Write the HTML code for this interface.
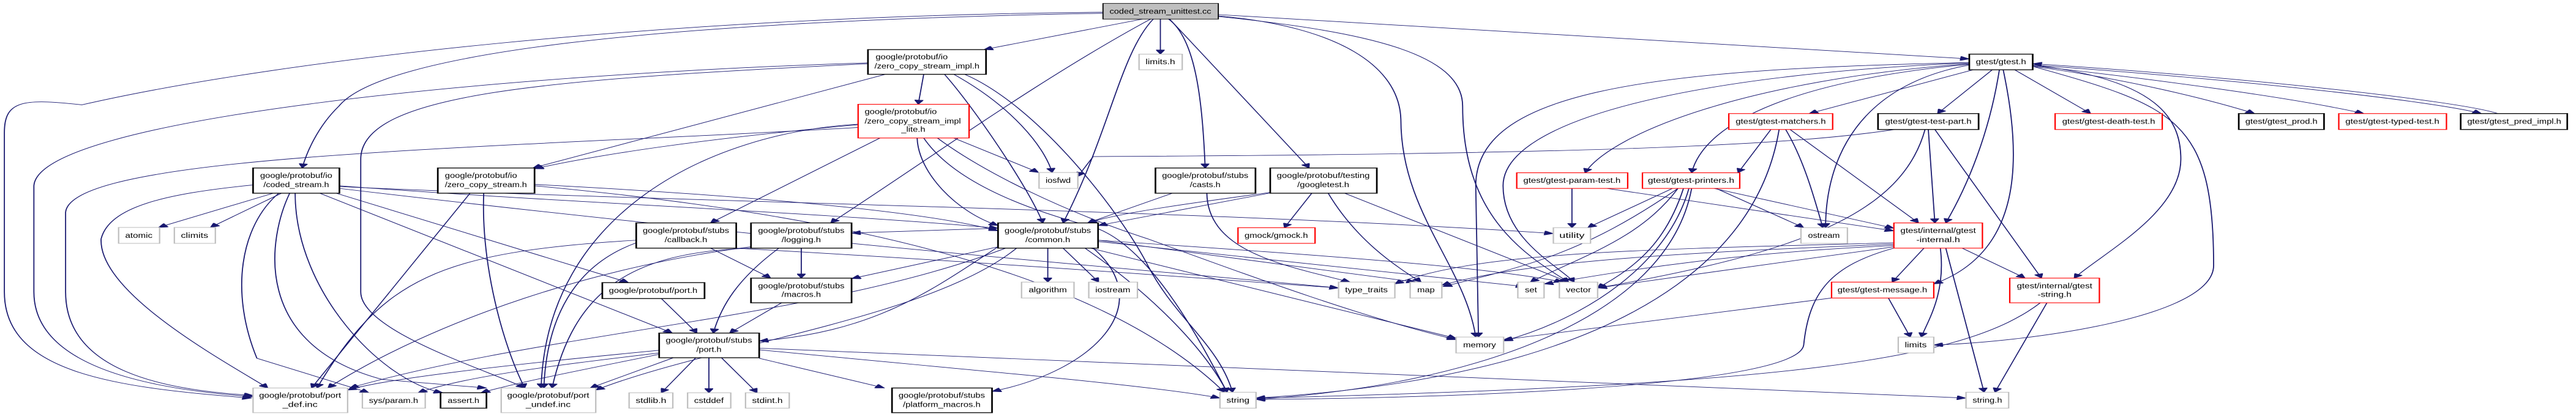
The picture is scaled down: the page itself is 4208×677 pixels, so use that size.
<!DOCTYPE html>
<html><head><meta charset="utf-8"><style>
html,body{margin:0;padding:0;background:#fff;}
svg{display:block;}
text{font-family:"Liberation Sans",sans-serif;font-size:28px;fill:#000;text-anchor:middle;}
.b{fill:#fff;stroke:#000;stroke-width:3;}
.g{fill:#fff;stroke:#bfbfbf;stroke-width:2.5;}
.r{fill:#fff;stroke:#ff0000;stroke-width:2.5;}
.e{fill:none;stroke:#191970;stroke-width:2;}
</style></head><body>
<svg width="4208" height="677" viewBox="0 0 4713 1560" preserveAspectRatio="none" xmlns="http://www.w3.org/2000/svg">
<defs><marker id="a" viewBox="0 0 10 10" refX="10" refY="5" markerWidth="7" markerHeight="7" markerUnits="userSpaceOnUse" orient="auto"><path d="M0,0 L10,5 L0,10 z" fill="#191970"/></marker>
<marker id="m" viewBox="0 0 10 10" refX="10" refY="5" markerWidth="18" markerHeight="16" markerUnits="userSpaceOnUse" orient="auto"><path d="M0,0 L10,5 L0,10 z" fill="#191970" stroke="#191970"/></marker></defs>
<g class="e" marker-end="url(#m)">
<path d="M2018,46 C1200,60 500,230 150,395 C40,370 8,380 8,500 L8,1100 C8,1400 200,1460 460,1500"/>
<path d="M2090,72 L1800,187"/>
<path d="M2018,50 C1200,80 700,200 620,400 C580,480 560,580 553,633"/>
<path d="M2123,72 L2123,204"/>
<path d="M2138,72 C2190,150 2200,400 2205,633"/>
<path d="M2140,72 L2395,633"/>
<path d="M2110,72 C2050,200 2030,500 1945,840"/>
<path d="M2105,72 C1900,300 1700,600 1520,840"/>
<path d="M2229,55 L3603,222"/>
<path d="M2229,60 C2450,100 2560,250 2563,450 C2563,800 2680,1000 2700,1270"/>
<path d="M2229,62 C2500,120 2676,200 2676,400 C2676,800 2780,950 2870,1063"/>
<path d="M1588,237 C900,280 70,450 62,700 L62,1100 C62,1400 300,1470 463,1495"/>
<path d="M1588,240 C1000,300 660,350 660,600 L660,1100 C660,1250 900,1400 960,1462"/>
<path d="M1620,280 L975,633"/>
<path d="M1690,280 L1680,393"/>
<path d="M1745,280 C1850,400 1910,550 1925,650"/>
<path d="M1728,280 C1780,400 1880,700 1908,840"/>
<path d="M1765,280 C1900,400 2050,800 2100,1000 C2150,1200 2230,1300 2255,1478"/>
<path d="M1745,520 L1900,650"/>
<path d="M1570,470 C1300,520 1100,580 978,636"/>
<path d="M1610,520 L1300,840"/>
<path d="M1570,468 C1300,500 1000,800 990,1462"/>
<path d="M1678,520 C1680,650 1750,800 1826,850"/>
<path d="M1690,520 C1750,700 1900,800 1990,850 C2100,900 2200,1300 2245,1478"/>
<path d="M1715,520 C1800,650 1950,800 2100,900 C2300,1050 2500,1200 2664,1280"/>
<path d="M1573,480 C900,560 130,580 120,800 L120,1100 C120,1400 300,1470 463,1490"/>
<path d="M500,728 L290,857"/>
<path d="M515,728 L385,857"/>
<path d="M463,697 C300,730 200,780 185,900 C180,1100 400,1350 490,1462"/>
<path d="M510,728 C440,850 420,1100 470,1350 L675,1480"/>
<path d="M530,728 C490,900 460,1300 700,1430 L890,1462"/>
<path d="M540,728 C540,1100 700,1440 810,1480"/>
<path d="M615,728 L1150,1065"/>
<path d="M585,728 L1230,1255"/>
<path d="M621,700 C1000,760 1500,800 1826,860"/>
<path d="M621,703 C1200,760 2200,790 2842,880"/>
<path d="M621,710 C1400,900 2000,1000 2449,1085"/>
<path d="M860,728 L570,1462"/>
<path d="M885,728 C880,1000 920,1300 960,1462"/>
<path d="M978,695 C1400,740 1700,800 1826,870"/>
<path d="M978,700 C1500,800 2000,1000 2240,1478"/>
<path d="M1300,935 L1410,1048"/>
<path d="M1164,905 C800,950 700,1050 580,1462"/>
<path d="M1164,915 C1050,1000 1000,1200 995,1462"/>
<path d="M1347,935 C1900,1000 2200,1050 2449,1085"/>
<path d="M1466,935 L1466,1048"/>
<path d="M1425,935 C1350,1050 1320,1150 1305,1255"/>
<path d="M1374,930 C1100,1000 800,1200 600,1462"/>
<path d="M1374,935 C1150,950 1050,1100 1010,1462"/>
<path d="M1826,860 L1558,878"/>
<path d="M1826,930 L1558,1050"/>
<path d="M1826,930 C1700,1100 1600,1250 1389,1285"/>
<path d="M1840,935 C1500,1200 1000,1250 640,1462"/>
<path d="M1860,935 C1700,1200 1300,1300 1090,1470"/>
<path d="M1917,935 L1917,1063"/>
<path d="M1945,935 L2010,1063"/>
<path d="M2009,905 L2590,1063"/>
<path d="M2009,910 L2790,1080"/>
<path d="M2009,905 C2400,960 2700,1000 2860,1063"/>
<path d="M1995,935 L2664,1275"/>
<path d="M1985,935 C2100,1100 2200,1300 2245,1478"/>
<path d="M2000,935 C2120,1150 2000,1400 1815,1475"/>
<path d="M1210,1125 L1275,1255"/>
<path d="M1430,1141 L1335,1255"/>
<path d="M1206,1320 C900,1380 700,1430 636,1470"/>
<path d="M1206,1330 C1000,1380 850,1420 765,1480"/>
<path d="M1206,1335 C1050,1400 950,1440 880,1480"/>
<path d="M1232,1348 L1080,1462"/>
<path d="M1273,1348 L1210,1480"/>
<path d="M1297,1348 L1297,1480"/>
<path d="M1320,1348 L1385,1480"/>
<path d="M1389,1350 L1618,1462"/>
<path d="M1389,1318 C1800,1400 2100,1450 2232,1500"/>
<path d="M1389,1312 C2200,1380 3000,1450 3597,1500"/>
<path d="M2324,727 L2009,850"/>
<path d="M2324,725 C2200,760 2050,800 1990,840"/>
<path d="M2400,728 L2350,858"/>
<path d="M2430,728 C2480,900 2550,1000 2600,1063"/>
<path d="M2460,728 L2870,1063"/>
<path d="M2145,728 L1990,840"/>
<path d="M2208,728 C2210,950 2350,1000 2470,1063"/>
<path d="M3466,488 C3300,540 3000,580 2000,590 L1972,665"/>
<path d="M3603,240 C3200,300 2950,500 2900,651"/>
<path d="M3603,242 C3300,300 3120,450 3095,651"/>
<path d="M3603,236 C3000,260 2700,350 2700,700 L2705,1270"/>
<path d="M3603,237 C3100,280 2750,450 2750,700 C2750,900 2850,1000 2880,1063"/>
<path d="M3719,250 C3980,400 4050,450 4050,1000 C4050,1200 3700,1290 3538,1300"/>
<path d="M3603,245 C3400,320 3340,600 3340,858"/>
<path d="M3610,263 L3310,428"/>
<path d="M3645,263 L3545,428"/>
<path d="M3658,263 C3640,500 3600,700 3560,840"/>
<path d="M3665,263 C3700,600 3700,950 3538,1070"/>
<path d="M3719,245 C3950,300 3990,450 3990,600 C3990,800 3850,950 3795,1048"/>
<path d="M3686,263 L3825,428"/>
<path d="M3719,250 C3900,300 4050,380 4125,428"/>
<path d="M3719,248 C3950,300 4200,370 4325,428"/>
<path d="M3719,245 C4100,300 4450,380 4540,428"/>
<path d="M4570,428 C4500,380 4100,290 3719,240"/>
<path d="M3275,488 L3510,840"/>
<path d="M3267,488 C3300,600 3320,750 3335,858"/>
<path d="M3240,488 L3180,651"/>
<path d="M3255,488 C3230,800 3100,1400 2298,1500"/>
<path d="M3528,488 L3540,840"/>
<path d="M3540,488 L3735,1048"/>
<path d="M3522,488 C3480,800 3300,950 2923,1085"/>
<path d="M2876,710 L2876,858"/>
<path d="M2940,710 L3465,870"/>
<path d="M3060,710 L2905,858"/>
<path d="M3136,710 L3465,860"/>
<path d="M3140,710 L3300,858"/>
<path d="M3070,710 C3000,900 2900,960 2800,1063"/>
<path d="M3080,710 C3050,900 3000,1000 2923,1085"/>
<path d="M3070,710 C2900,950 2800,1000 2640,1080"/>
<path d="M3090,710 C3050,1000 2900,1200 2751,1285"/>
<path d="M3095,710 C3050,1200 2700,1450 2298,1505"/>
<path d="M3465,920 C3100,950 2800,980 2638,1075"/>
<path d="M3465,925 C3100,960 2900,1050 2825,1070"/>
<path d="M3465,930 L2923,1085"/>
<path d="M3465,915 C3000,940 2700,950 2552,1070"/>
<path d="M3520,935 L3462,1063"/>
<path d="M3590,935 L3705,1048"/>
<path d="M3550,935 C3560,1100 3530,1200 3515,1270"/>
<path d="M3560,935 L3630,1478"/>
<path d="M3465,935 C3350,1000 3310,1100 3300,1300 C3290,1450 2700,1500 2298,1505"/>
<path d="M3455,1123 L3495,1270"/>
<path d="M3351,1123 L2751,1280"/>
<path d="M3745,1141 L3650,1478"/>
<path d="M3733,1141 C3600,1350 3300,1450 2298,1500"/>
</g>
<!-- nodes -->
<rect x="2018" y="13" width="211" height="59" fill="#bfbfbf" stroke="#000" stroke-width="2"/>
<text x="2123" y="52" textLength="186" lengthAdjust="spacingAndGlyphs">coded_stream_unittest.cc</text>

<rect class="b" x="463" y="633" width="158" height="95"/>
<text x="542" y="671" textLength="132" lengthAdjust="spacingAndGlyphs">google/protobuf/io</text>
<text x="542" y="705" textLength="120" lengthAdjust="spacingAndGlyphs">/coded_stream.h</text>

<rect class="b" x="801" y="633" width="177" height="95"/>
<text x="880" y="671" textLength="132" lengthAdjust="spacingAndGlyphs">google/protobuf/io</text>
<text x="889" y="705" textLength="150" lengthAdjust="spacingAndGlyphs">/zero_copy_stream.h</text>

<rect class="g" x="217" y="857" width="75" height="60"/>
<text x="254" y="896" textLength="50" lengthAdjust="spacingAndGlyphs">atomic</text>
<rect class="g" x="319" y="857" width="75" height="60"/>
<text x="356" y="896" textLength="50" lengthAdjust="spacingAndGlyphs">climits</text>

<rect class="b" x="1164" y="840" width="183" height="95"/>
<text x="1255" y="878" textLength="158" lengthAdjust="spacingAndGlyphs">google/protobuf/stubs</text>
<text x="1255" y="912" textLength="78" lengthAdjust="spacingAndGlyphs">/callback.h</text>

<rect class="b" x="1374" y="840" width="184" height="95"/>
<text x="1466" y="878" textLength="158" lengthAdjust="spacingAndGlyphs">google/protobuf/stubs</text>
<text x="1466" y="912" textLength="72" lengthAdjust="spacingAndGlyphs">/logging.h</text>

<rect class="b" x="1102" y="1065" width="187" height="60"/>
<text x="1195" y="1104" textLength="162" lengthAdjust="spacingAndGlyphs">google/protobuf/port.h</text>

<rect class="b" x="1374" y="1048" width="184" height="93"/>
<text x="1466" y="1086" textLength="158" lengthAdjust="spacingAndGlyphs">google/protobuf/stubs</text>
<text x="1466" y="1119" textLength="72" lengthAdjust="spacingAndGlyphs">/macros.h</text>

<rect class="b" x="1206" y="1255" width="183" height="93"/>
<text x="1297" y="1292" textLength="158" lengthAdjust="spacingAndGlyphs">google/protobuf/stubs</text>
<text x="1297" y="1326" textLength="46" lengthAdjust="spacingAndGlyphs">/port.h</text>

<rect class="g" x="463" y="1462" width="173" height="93"/>
<text x="549" y="1499" textLength="150" lengthAdjust="spacingAndGlyphs">google/protobuf/port</text>
<text x="549" y="1533" textLength="64" lengthAdjust="spacingAndGlyphs">_def.inc</text>

<rect class="g" x="663" y="1480" width="115" height="58"/>
<text x="720" y="1518" textLength="90" lengthAdjust="spacingAndGlyphs">sys/param.h</text>
<rect class="b" x="806" y="1480" width="84" height="58"/>
<text x="848" y="1518" textLength="58" lengthAdjust="spacingAndGlyphs">assert.h</text>

<rect class="g" x="917" y="1462" width="173" height="93"/>
<text x="1003" y="1499" textLength="150" lengthAdjust="spacingAndGlyphs">google/protobuf/port</text>
<text x="1003" y="1533" textLength="82" lengthAdjust="spacingAndGlyphs">_undef.inc</text>

<rect class="g" x="1151" y="1480" width="80" height="58"/>
<text x="1191" y="1518" textLength="56" lengthAdjust="spacingAndGlyphs">stdlib.h</text>
<rect class="g" x="1258" y="1480" width="79" height="58"/>
<text x="1297" y="1518" textLength="54" lengthAdjust="spacingAndGlyphs">cstddef</text>
<rect class="g" x="1364" y="1480" width="80" height="58"/>
<text x="1404" y="1518" textLength="56" lengthAdjust="spacingAndGlyphs">stdint.h</text>

<rect class="b" x="1588" y="187" width="216" height="93"/>
<text x="1668" y="224" textLength="132" lengthAdjust="spacingAndGlyphs">google/protobuf/io</text>
<text x="1696" y="258" textLength="192" lengthAdjust="spacingAndGlyphs">/zero_copy_stream_impl.h</text>

<rect class="g" x="2084" y="204" width="79" height="59"/>
<text x="2123" y="242" textLength="54" lengthAdjust="spacingAndGlyphs">limits.h</text>

<rect class="r" x="1570" y="393" width="203" height="127"/>
<text x="1648" y="430" textLength="132" lengthAdjust="spacingAndGlyphs">google/protobuf/io</text>
<text x="1670" y="465" textLength="176" lengthAdjust="spacingAndGlyphs">/zero_copy_stream_impl</text>
<text x="1671" y="497" textLength="44" lengthAdjust="spacingAndGlyphs">_lite.h</text>

<rect class="g" x="1901" y="650" width="71" height="60"/>
<text x="1936" y="689" textLength="46" lengthAdjust="spacingAndGlyphs">iosfwd</text>

<rect class="b" x="2114" y="633" width="183" height="95"/>
<text x="2205" y="671" textLength="158" lengthAdjust="spacingAndGlyphs">google/protobuf/stubs</text>
<text x="2205" y="705" textLength="56" lengthAdjust="spacingAndGlyphs">/casts.h</text>

<rect class="b" x="2324" y="633" width="195" height="95"/>
<text x="2421" y="671" textLength="170" lengthAdjust="spacingAndGlyphs">google/protobuf/testing</text>
<text x="2421" y="705" textLength="95" lengthAdjust="spacingAndGlyphs">/googletest.h</text>

<rect class="r" x="2775" y="651" width="203" height="59"/>
<text x="2876" y="689" textLength="178" lengthAdjust="spacingAndGlyphs">gtest/gtest-param-test.h</text>
<rect class="r" x="3005" y="651" width="178" height="59"/>
<text x="3094" y="689" textLength="158" lengthAdjust="spacingAndGlyphs">gtest/gtest-printers.h</text>

<rect class="b" x="1826" y="840" width="183" height="95"/>
<text x="1917" y="878" textLength="158" lengthAdjust="spacingAndGlyphs">google/protobuf/stubs</text>
<text x="1917" y="912" textLength="82" lengthAdjust="spacingAndGlyphs">/common.h</text>

<rect class="r" x="2265" y="858" width="141" height="59"/>
<text x="2335" y="896" textLength="116" lengthAdjust="spacingAndGlyphs">gmock/gmock.h</text>
<rect class="g" x="2842" y="858" width="68" height="59"/>
<text x="2876" y="896" textLength="46" lengthAdjust="spacingAndGlyphs">utility</text>

<rect class="g" x="1869" y="1063" width="96" height="60"/>
<text x="1917" y="1102" textLength="70" lengthAdjust="spacingAndGlyphs">algorithm</text>
<rect class="g" x="1992" y="1063" width="89" height="60"/>
<text x="2036" y="1102" textLength="64" lengthAdjust="spacingAndGlyphs">iostream</text>
<rect class="g" x="2449" y="1063" width="103" height="60"/>
<text x="2500" y="1102" textLength="78" lengthAdjust="spacingAndGlyphs">type_traits</text>
<rect class="g" x="2580" y="1063" width="58" height="60"/>
<text x="2609" y="1102" textLength="32" lengthAdjust="spacingAndGlyphs">map</text>
<rect class="g" x="2777" y="1063" width="48" height="60"/>
<text x="2801" y="1102" textLength="22" lengthAdjust="spacingAndGlyphs">set</text>
<rect class="g" x="2853" y="1063" width="70" height="60"/>
<text x="2888" y="1102" textLength="46" lengthAdjust="spacingAndGlyphs">vector</text>
<rect class="g" x="2664" y="1270" width="87" height="60"/>
<text x="2707" y="1309" textLength="60" lengthAdjust="spacingAndGlyphs">memory</text>

<rect class="b" x="1632" y="1462" width="183" height="93"/>
<text x="1723" y="1499" textLength="158" lengthAdjust="spacingAndGlyphs">google/protobuf/stubs</text>
<text x="1723" y="1533" textLength="142" lengthAdjust="spacingAndGlyphs">/platform_macros.h</text>

<rect class="g" x="2232" y="1478" width="66" height="60"/>
<text x="2265" y="1517" textLength="42" lengthAdjust="spacingAndGlyphs">string</text>

<rect class="b" x="3603" y="204" width="116" height="59"/>
<text x="3661" y="242" textLength="92" lengthAdjust="spacingAndGlyphs">gtest/gtest.h</text>

<rect class="r" x="3163" y="428" width="190" height="60"/>
<text x="3258" y="467" textLength="165" lengthAdjust="spacingAndGlyphs">gtest/gtest-matchers.h</text>
<rect class="b" x="3436" y="428" width="184" height="60"/>
<text x="3528" y="467" textLength="158" lengthAdjust="spacingAndGlyphs">gtest/gtest-test-part.h</text>
<rect class="r" x="3760" y="428" width="196" height="60"/>
<text x="3858" y="467" textLength="170" lengthAdjust="spacingAndGlyphs">gtest/gtest-death-test.h</text>
<rect class="b" x="4096" y="428" width="156" height="60"/>
<text x="4174" y="467" textLength="132" lengthAdjust="spacingAndGlyphs">gtest/gtest_prod.h</text>
<rect class="r" x="4279" y="428" width="197" height="60"/>
<text x="4377" y="467" textLength="172" lengthAdjust="spacingAndGlyphs">gtest/gtest-typed-test.h</text>
<rect class="b" x="4502" y="428" width="195" height="60"/>
<text x="4600" y="467" textLength="172" lengthAdjust="spacingAndGlyphs">gtest/gtest_pred_impl.h</text>

<rect class="g" x="3295" y="858" width="85" height="59"/>
<text x="3337" y="896" textLength="58" lengthAdjust="spacingAndGlyphs">ostream</text>

<rect class="r" x="3465" y="840" width="162" height="95"/>
<text x="3546" y="878" textLength="138" lengthAdjust="spacingAndGlyphs">gtest/internal/gtest</text>
<text x="3546" y="912" textLength="80" lengthAdjust="spacingAndGlyphs">-internal.h</text>

<rect class="r" x="3351" y="1063" width="187" height="60"/>
<text x="3444" y="1102" textLength="164" lengthAdjust="spacingAndGlyphs">gtest/gtest-message.h</text>

<rect class="r" x="3677" y="1048" width="164" height="93"/>
<text x="3759" y="1086" textLength="138" lengthAdjust="spacingAndGlyphs">gtest/internal/gtest</text>
<text x="3759" y="1119" textLength="62" lengthAdjust="spacingAndGlyphs">-string.h</text>

<rect class="g" x="3473" y="1270" width="65" height="60"/>
<text x="3505" y="1309" textLength="40" lengthAdjust="spacingAndGlyphs">limits</text>
<rect class="g" x="3597" y="1478" width="78" height="60"/>
<text x="3636" y="1517" textLength="54" lengthAdjust="spacingAndGlyphs">string.h</text>
</svg>
</body></html>
